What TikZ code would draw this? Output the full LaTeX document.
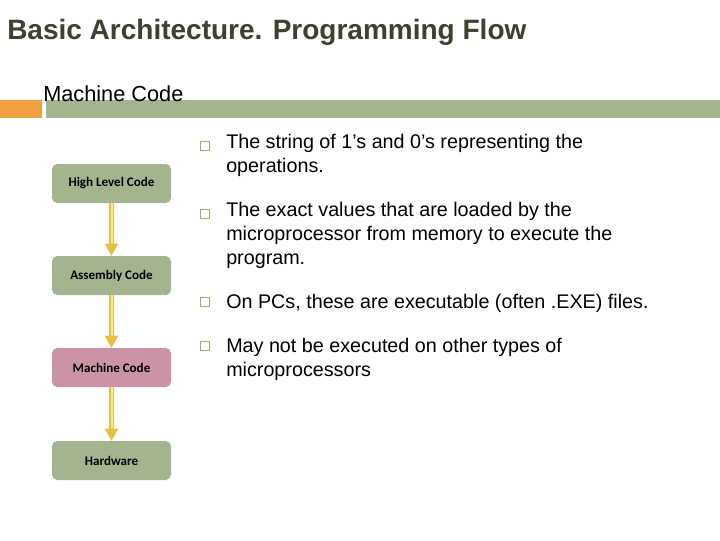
\documentclass[tikz,border=0pt]{standalone}
\usepackage{fontspec}
\setmainfont{Liberation Sans}
\newfontfamily\boxfont{Carlito}
\usetikzlibrary{arrows.meta}
\definecolor{gbox}{HTML}{A4B48E}
\definecolor{pbox}{HTML}{CB93A5}
\definecolor{ylw}{HTML}{E6C040}
\definecolor{pylw}{HTML}{F5E6A8}
\definecolor{orng}{HTML}{F0A040}
\definecolor{ttl}{HTML}{3F4030}
\definecolor{bul}{HTML}{B8A070}
\begin{document}
\begin{tikzpicture}[x=0.75pt,y=-0.75pt,
  flowbox/.style={draw=none,rounded corners=4pt,minimum width=89.25pt,minimum height=29.25pt,font=\boxfont\fontsize{9.8}{11}\selectfont\bfseries,inner sep=0pt},
  flowarrow/.style={draw=ylw,double=pylw,double distance=1.5pt,line width=1.1pt,-{Triangle[length=9pt,width=10pt,fill=ylw]}},
  bullet/.style={draw=bul,line width=0.5pt,minimum size=6.5pt,inner sep=0pt},
  btext/.style={anchor=north west,align=left,font=\fontsize{14.8}{18}\selectfont,inner sep=0pt}]
\useasboundingbox (0,0) rectangle (720,540);
\node[anchor=west,font=\fontsize{21}{24}\selectfont\bfseries,text=ttl,inner sep=0pt] (title) at (7,32) {Basic Architecture. Programming Flow};
\fill[orng] (0,100) rectangle (42,118);
\fill[gbox] (46,100) rectangle (720,118);
\node[anchor=west,font=\fontsize{16.3}{18}\selectfont,inner sep=0pt] (sub) at (43,94) {Machine Code};
\node[flowbox,fill=gbox] (hl) at (111.5,183.5) {High Level Code};
\node[flowbox,fill=gbox] (as) at (111.5,275.5) {Assembly Code};
\node[flowbox,fill=pbox] (mc) at (111.5,367.5) {Machine Code};
\node[flowbox,fill=gbox] (hw) at (111.5,460.5) {Hardware};
\draw[flowarrow] (hl.south) -- (as.north);
\draw[flowarrow] (as.south) -- (mc.north);
\draw[flowarrow] (mc.south) -- (hw.north);
\node[bullet] (b1) at (205,146) {};
\node[bullet] (b2) at (205,214) {};
\node[bullet] (b3) at (205,302) {};
\node[bullet] (b4) at (205,346) {};
\node[btext] (t1) at (226,134) {The string of 1’s and 0’s representing the\\operations.};
\node[btext] (t2) at (226,202) {The exact values that are loaded by the\\microprocessor from memory to execute the\\program.};
\node[btext] (t3) at (226,294) {On PCs, these are executable (often .EXE) files.};
\node[btext] (t4) at (226,338) {May not be executed on other types of\\microprocessors};
\end{tikzpicture}
\end{document}
